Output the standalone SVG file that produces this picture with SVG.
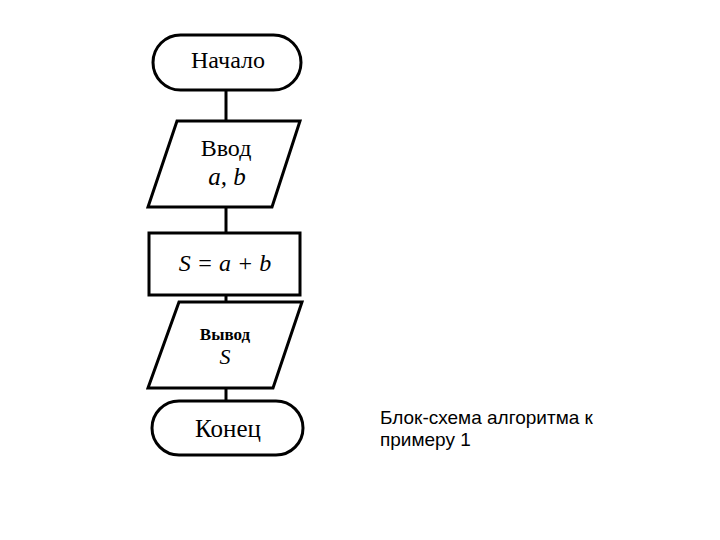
<svg xmlns="http://www.w3.org/2000/svg" width="720" height="540" viewBox="0 0 720 540">
<style>
.s{fill:#fff;stroke:#000;stroke-width:3;stroke-linejoin:miter}
.c{stroke:#000;stroke-width:3;fill:none}
.t{font-family:"Liberation Serif","Times New Roman",serif;fill:#000;text-anchor:middle}
.i{font-style:italic}
.cap{font-family:"Liberation Sans",Arial,sans-serif;font-size:19px;fill:#000}
</style>
<rect width="720" height="540" fill="#fff"/>
<g id="connectors">
<line class="c" x1="226" y1="90" x2="226" y2="121"/>
<line class="c" x1="226" y1="207" x2="226" y2="233"/>
<line class="c" x1="226" y1="295" x2="226" y2="302"/>
<line class="c" x1="226" y1="388" x2="226" y2="401"/>
</g>
<g id="start">
<rect class="s" x="153" y="35" width="148" height="55" rx="27.5"/>
<text class="t" x="228" y="68" font-size="24">Начало</text>
</g>
<g id="input">
<polygon class="s" points="177,121 300,121 272,207 148,207"/>
<text class="t" x="226" y="156" font-size="24">Ввод</text>
<text class="t i" x="227" y="185" font-size="25">a, b</text>
</g>
<g id="process">
<rect class="s" x="149" y="233" width="151" height="62"/>
<text class="t i" x="225" y="271" font-size="24">S = a + b</text>
</g>
<g id="output">
<polygon class="s" points="179,302 302,302 273,388 148,388"/>
<text class="t" x="225" y="340" font-size="17" font-weight="bold">Вывод</text>
<text class="t i" x="225" y="364" font-size="22">S</text>
</g>
<g id="end">
<rect class="s" x="152" y="401" width="151" height="54" rx="27"/>
<text class="t" x="228" y="437" font-size="25">Конец</text>
</g>
<text class="cap" x="380" y="424">Блок-схема алгоритма к</text>
<text class="cap" x="380" y="446">примеру 1</text>
</svg>
